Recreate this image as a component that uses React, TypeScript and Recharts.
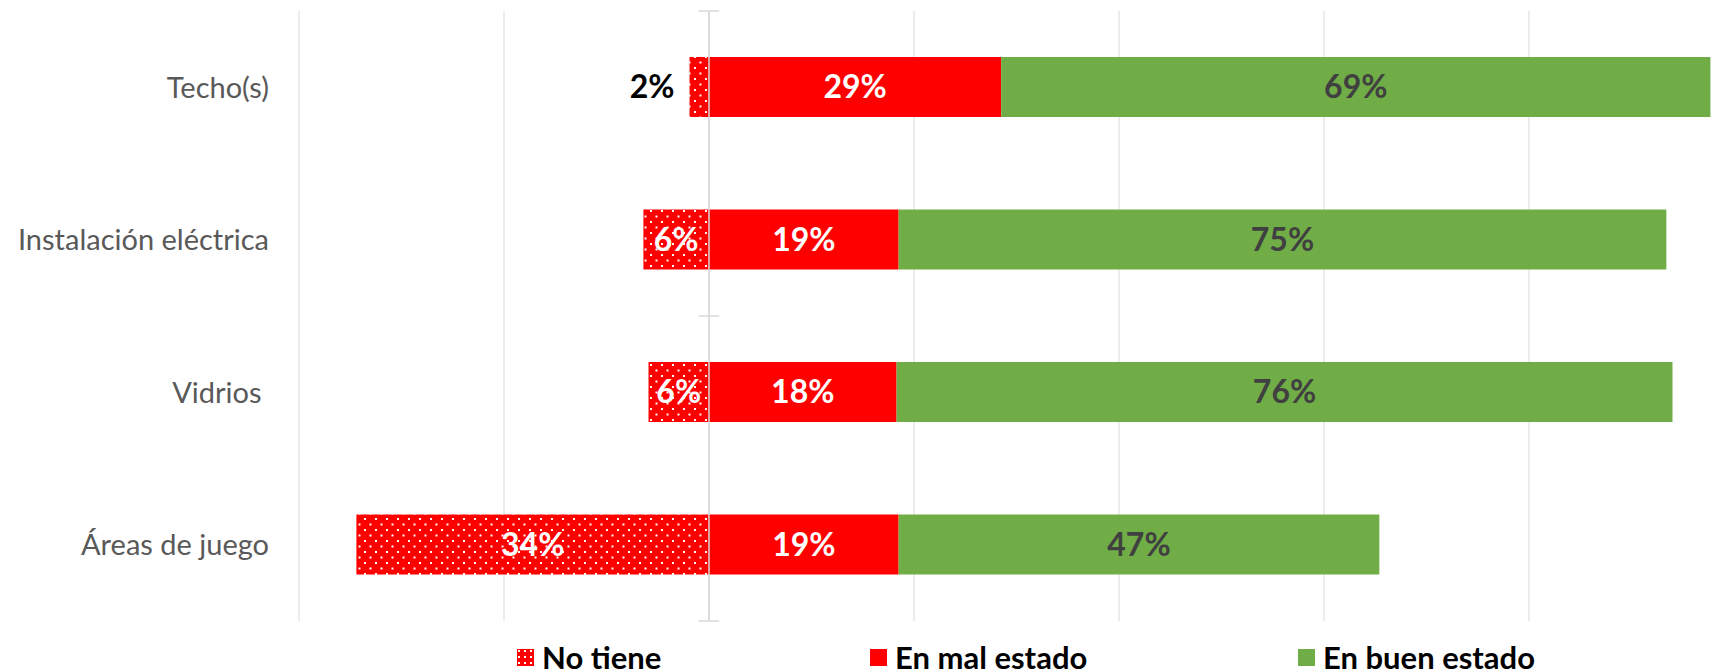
import React from 'react';
import {
  BarChart,
  Bar,
  XAxis,
  YAxis,
  CartesianGrid,
  ReferenceLine,
  LabelList,
  Legend,
} from 'recharts';

// ---- data ----
const categories = ['Techo(s)', 'Instalación eléctrica', 'Vidrios ', 'Áreas de juego'];
const noTiene = [-1.9, -6.4, -5.9, -34.4];
const malEstado = [28.5, 18.5, 18.3, 18.5];
const buenEstado = [69.2, 74.9, 75.7, 46.9];
const seriesNames = ['No tiene', 'En mal estado', 'En buen estado'];
const xTicks = [-40, -20, 0, 20, 40, 60, 80, 100];

const data = categories.map((c, i) => ({
  category: c,
  noTiene: noTiene[i],
  mal: malEstado[i],
  buen: buenEstado[i],
}));

// ---- styles ----
const RED = '#FF0000';
const GREEN = '#70AD47';
const GRID = '#D9D9D9';
const FONT = 'Lato, "Open Sans", sans-serif';
const LABEL_SIZE = 32;
const CAT_SIZE = 29;
const CAP = 0.358;

const pct = (v: number) => `${Math.round(Math.abs(v))}%`;

const NoTieneLabel = (props: any) => {
  const { x, y, width, height, value } = props;
  const left = Math.min(x, x + width);
  const w = Math.abs(width);
  const ty = y + height / 2 + LABEL_SIZE * CAP;
  if (Math.abs(value) < 4) {
    return (
      <text x={left - 15} y={ty} textAnchor="end" fill="#000" fontFamily={FONT} fontWeight={700} fontSize={LABEL_SIZE}>
        {pct(value)}
      </text>
    );
  }
  return (
    <text x={left + w / 2} y={ty} textAnchor="middle" fill="#fff" fontFamily={FONT} fontWeight={700} fontSize={LABEL_SIZE}>
      {pct(value)}
    </text>
  );
};

const makeCenterLabel = (color: string) => (props: any) => {
  const { x, y, width, height, value } = props;
  return (
    <text
      x={x + width / 2}
      y={y + height / 2 + LABEL_SIZE * CAP}
      textAnchor="middle"
      fill={color}
      fontFamily={FONT}
      fontWeight={700}
      fontSize={LABEL_SIZE}
    >
      {pct(value)}
    </text>
  );
};

const CategoryTick = (props: any) => {
  const { x, y, payload } = props;
  return (
    <text
      x={x}
      y={y + CAT_SIZE * CAP}
      textAnchor="end"
      fill="#595959"
      fontFamily={FONT}
      fontSize={CAT_SIZE}
      style={{ whiteSpace: 'pre' }}
    >
      {payload.value}
    </text>
  );
};

const legendItems = [
  { name: seriesNames[0], color: RED, pattern: true, left: 517 },
  { name: seriesNames[1], color: RED, pattern: false, left: 870 },
  { name: seriesNames[2], color: GREEN, pattern: false, left: 1298 },
];

const renderLegend = () => (
  <div style={{ position: 'relative', height: 60, width: '100%' }}>
    {legendItems.map((it) => (
      <div
        key={it.name}
        style={{
          position: 'absolute',
          left: it.left,
          top: 18,
          display: 'flex',
          alignItems: 'center',
          whiteSpace: 'nowrap',
          fontFamily: FONT,
          fontWeight: 700,
          fontSize: 31,
          lineHeight: '37px',
          color: '#000',
        }}
      >
        <svg width={17} height={17} style={{ marginRight: 8, display: 'block' }}>
          <defs>
            <pattern id="legendDots" patternUnits="userSpaceOnUse" width={6} height={6}>
              <rect width={6} height={6} fill={RED} />
              <rect x={1} y={1} width={2} height={2} fill="#fff" />
            </pattern>
          </defs>
          <rect width={17} height={17} fill={it.pattern ? 'url(#legendDots)' : it.color} />
        </svg>
        <span>{it.name}</span>
      </div>
    ))}
  </div>
);

export default function App() {
  return (
    <div style={{ position: 'absolute', left: 0, top: 0, width: 1721, height: 671, overflow: 'hidden', background: '#fff' }}>
      <BarChart
        width={1734}
        height={700}
        data={data}
        layout="vertical"
        stackOffset="sign"
        barSize={60}
        margin={{ top: 11, right: 0, bottom: 19, left: 0 }}
      >
        <defs>
          <pattern id="dots" patternUnits="userSpaceOnUse" width={11} height={11}>
            <rect width={11} height={11} fill={RED} />
            <rect x={1} y={1} width={2} height={2} fill="#fff" />
            <rect x={6.5} y={6.5} width={2} height={2} fill="#fff" />
          </pattern>
        </defs>
        <CartesianGrid horizontal={false} stroke={GRID} />
        <XAxis type="number" domain={[-40, 100]} ticks={xTicks} hide allowDataOverflow />
        <YAxis
          type="category"
          dataKey="category"
          width={299}
          axisLine={false}
          tickLine={false}
          tickSize={0}
          tickMargin={30}
          tick={<CategoryTick />}
          interval={0}
        />
        <ReferenceLine x={0} stroke={GRID} strokeWidth={1.5} />
        <ReferenceLine segment={[{ x: -1, y: categories[0] }, { x: 1, y: categories[0] }]} position="start" stroke={GRID} strokeWidth={1.5} />
        <ReferenceLine segment={[{ x: -1, y: categories[2] }, { x: 1, y: categories[2] }]} position="start" stroke={GRID} strokeWidth={1.5} />
        <ReferenceLine segment={[{ x: -1, y: categories[3] }, { x: 1, y: categories[3] }]} position="end" stroke={GRID} strokeWidth={1.5} />
        <Legend verticalAlign="bottom" content={renderLegend} />
        <Bar dataKey="noTiene" name={seriesNames[0]} stackId="a" fill="url(#dots)" isAnimationActive={false}>
          <LabelList dataKey="noTiene" content={NoTieneLabel} />
        </Bar>
        <Bar dataKey="mal" name={seriesNames[1]} stackId="a" fill={RED} isAnimationActive={false}>
          <LabelList dataKey="mal" content={makeCenterLabel('#fff')} />
        </Bar>
        <Bar dataKey="buen" name={seriesNames[2]} stackId="a" fill={GREEN} isAnimationActive={false}>
          <LabelList dataKey="buen" content={makeCenterLabel('#404040')} />
        </Bar>
      </BarChart>
    </div>
  );
}
